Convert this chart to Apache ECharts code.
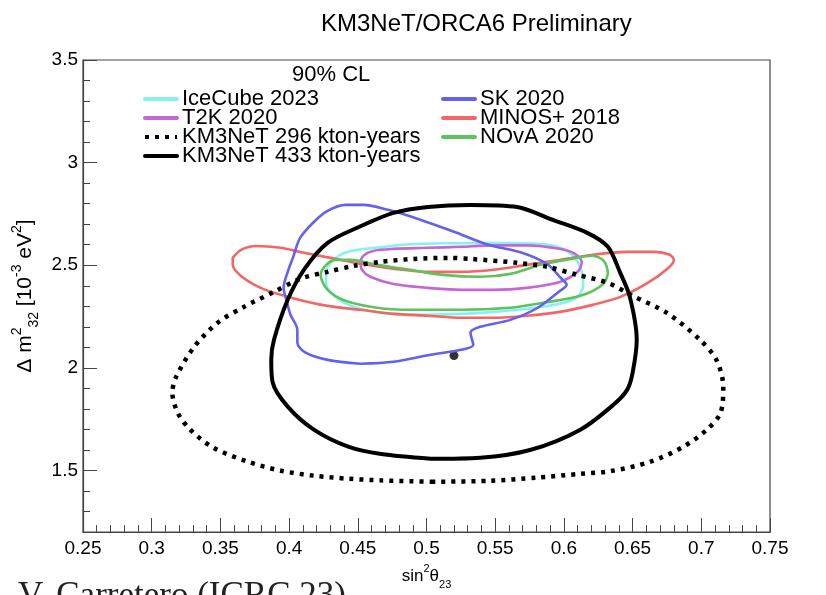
<!DOCTYPE html>
<html><head><meta charset="utf-8">
<script src="https://cdn.jsdelivr.net/npm/echarts@6/dist/echarts.min.js"></script>
<style>html,body{margin:0;padding:0;background:#fff}#c{width:826px;height:595px}</style>
</head><body><div id="c"></div>
<script>
// ---- data (sin^2 theta23, dm2_32 [1e-3 eV^2]) ----
const xTickValues = [0.25, 0.3, 0.35, 0.4, 0.45, 0.5, 0.55, 0.6, 0.65, 0.7, 0.75];
const yTickValues = [1.5, 2, 2.5, 3, 3.5];

const iceCube2023 = [[0.496,2.259],[0.467,2.268],[0.445,2.302],[0.432,2.356],[0.427,2.414],[0.427,2.468],[0.434,2.536],[0.445,2.570],[0.467,2.588],[0.488,2.602],[0.512,2.607],[0.539,2.608],[0.573,2.607],[0.594,2.592],[0.607,2.545],[0.613,2.468],[0.614,2.405],[0.610,2.346],[0.597,2.312],[0.573,2.288],[0.549,2.273],[0.525,2.263],[0.496,2.259]];
const t2k2020 = [[0.525,2.380],[0.501,2.390],[0.476,2.409],[0.459,2.444],[0.453,2.478],[0.452,2.512],[0.454,2.546],[0.461,2.570],[0.476,2.580],[0.501,2.585],[0.525,2.590],[0.549,2.597],[0.573,2.597],[0.597,2.580],[0.608,2.556],[0.613,2.517],[0.610,2.468],[0.597,2.419],[0.573,2.390],[0.549,2.380],[0.525,2.380]];
const minos2018 = [[0.359,2.536],[0.365,2.575],[0.376,2.594],[0.394,2.585],[0.408,2.565],[0.430,2.536],[0.452,2.507],[0.477,2.482],[0.501,2.468],[0.525,2.468],[0.549,2.478],[0.573,2.502],[0.597,2.526],[0.621,2.551],[0.646,2.565],[0.666,2.565],[0.677,2.551],[0.680,2.526],[0.676,2.487],[0.661,2.414],[0.641,2.346],[0.621,2.307],[0.597,2.273],[0.573,2.254],[0.549,2.244],[0.525,2.244],[0.501,2.254],[0.476,2.263],[0.452,2.283],[0.428,2.302],[0.405,2.336],[0.381,2.385],[0.365,2.448],[0.359,2.502],[0.359,2.536]];
const nova2020 = [[0.525,2.283],[0.488,2.283],[0.464,2.293],[0.441,2.327],[0.428,2.380],[0.423,2.453],[0.427,2.502],[0.434,2.526],[0.445,2.526],[0.464,2.502],[0.488,2.478],[0.512,2.453],[0.539,2.444],[0.561,2.458],[0.583,2.502],[0.605,2.531],[0.621,2.546],[0.629,2.521],[0.632,2.463],[0.628,2.405],[0.612,2.351],[0.585,2.317],[0.561,2.293],[0.525,2.283]];
const sk2020 = [[0.452,2.020],[0.428,2.039],[0.412,2.074],[0.406,2.122],[0.406,2.185],[0.401,2.259],[0.398,2.332],[0.396,2.390],[0.399,2.468],[0.403,2.541],[0.408,2.633],[0.418,2.711],[0.428,2.765],[0.441,2.794],[0.454,2.794],[0.472,2.770],[0.496,2.721],[0.520,2.663],[0.545,2.600],[0.570,2.560],[0.588,2.505],[0.597,2.443],[0.602,2.405],[0.596,2.370],[0.581,2.293],[0.561,2.234],[0.539,2.200],[0.532,2.171],[0.534,2.112],[0.525,2.088],[0.503,2.064],[0.476,2.030],[0.452,2.020]];
const km3net296 = [[0.505,1.445],[0.467,1.452],[0.443,1.460],[0.418,1.475],[0.394,1.499],[0.370,1.543],[0.345,1.611],[0.328,1.699],[0.319,1.781],[0.315,1.880],[0.318,1.960],[0.331,2.103],[0.348,2.220],[0.367,2.297],[0.389,2.370],[0.408,2.434],[0.428,2.468],[0.447,2.497],[0.467,2.517],[0.491,2.531],[0.517,2.536],[0.532,2.531],[0.566,2.512],[0.588,2.492],[0.610,2.453],[0.632,2.414],[0.650,2.351],[0.675,2.268],[0.699,2.137],[0.711,2.039],[0.716,1.908],[0.714,1.781],[0.704,1.699],[0.687,1.616],[0.663,1.543],[0.634,1.497],[0.612,1.484],[0.580,1.465],[0.545,1.450],[0.505,1.445]];
const km3net433 = [[0.503,1.557],[0.467,1.580],[0.443,1.616],[0.418,1.699],[0.399,1.811],[0.388,1.930],[0.387,2.040],[0.389,2.137],[0.399,2.332],[0.411,2.480],[0.428,2.609],[0.452,2.690],[0.476,2.755],[0.501,2.784],[0.532,2.794],[0.566,2.784],[0.592,2.721],[0.617,2.658],[0.632,2.590],[0.641,2.463],[0.648,2.346],[0.653,2.137],[0.650,1.976],[0.646,1.893],[0.636,1.820],[0.612,1.699],[0.576,1.601],[0.539,1.562],[0.503,1.557]];
const bestFit = [[0.520, 2.060]];

const legendLeft = ['IceCube 2023', 'T2K 2020', 'KM3NeT 296 kton-years', 'KM3NeT 433 kton-years'];
const legendRight = ['SK 2020', 'MINOS+ 2018', 'NOvA 2020'];

const FONT = '"Liberation Sans", Arial, Helvetica, sans-serif';
const AX = '#444';

const chart = echarts.init(document.getElementById('c'), null, {renderer: 'canvas'});

function contour(name, data, color, width, type) {
  return {
    type: 'line', name: name, data: data, symbol: 'none', showSymbol: false,
    smooth: 0.3, silent: true, animation: false, clip: true,
    lineStyle: {color: color, width: width, type: type || 'solid', cap: type ? 'butt' : 'round', join: 'round'},
    itemStyle: {color: color}
  };
}

const legendCommon = {
  orient: 'vertical', itemWidth: 32, itemHeight: 12, itemGap: -3, selectedMode: false,
  itemStyle: {color: 'rgba(0,0,0,0)', borderColor: 'rgba(0,0,0,0)', borderWidth: 0, opacity: 0},
  lineStyle: {width: 4},
  textStyle: {fontFamily: FONT, fontSize: 22, color: '#000', lineHeight: 19}
};

const richName = function (base, small) {
  return {
    b: {fontFamily: FONT, fontSize: base, color: '#000', verticalAlign: 'middle', lineHeight: base + 10},
    sup: {fontFamily: FONT, fontSize: small, color: '#000', verticalAlign: 'top', lineHeight: small + 2},
    sub: {fontFamily: FONT, fontSize: small, color: '#000', verticalAlign: 'bottom', lineHeight: small + 2}
  };
};

const option = {
  animation: false,
  backgroundColor: '#fff',
  title: {
    text: 'KM3NeT/ORCA6 Preliminary', left: 316, top: 7,
    textStyle: {fontFamily: FONT, fontSize: 24, fontWeight: 'normal', color: '#000'}
  },
  legend: [
    Object.assign({}, legendCommon, {data: legendLeft, left: 138, top: 83}),
    Object.assign({}, legendCommon, {data: legendRight, left: 436, top: 83})
  ],
  grid: {left: 83, right: 56, top: 60, bottom: 56, show: true, borderColor: AX, borderWidth: 1.2, backgroundColor: 'transparent'},
  xAxis: {
    type: 'value', min: xTickValues[0], max: xTickValues[xTickValues.length - 1], interval: 0.05,
    name: '{b|sin}{sup|2}{b|θ}{sub|23}', nameLocation: 'middle', nameGap: 30,
    nameTextStyle: {fontFamily: FONT, fontSize: 17, color: '#000', rich: richName(17, 11)},
    axisLine: {show: true, lineStyle: {color: AX, width: 1.2}},
    axisTick: {show: true, inside: true, length: 14, lineStyle: {color: AX, width: 1}},
    minorTick: {show: true, splitNumber: 5, length: 7, lineStyle: {color: AX, width: 1}},
    splitLine: {show: false}, minorSplitLine: {show: false},
    axisLabel: {fontFamily: FONT, fontSize: 19, color: '#000', margin: 7,
      formatter: function (v) { return String(+v.toFixed(2)); }}
  },
  yAxis: [
    {
      type: 'value', min: 1.2, max: yTickValues[yTickValues.length - 1], interval: 0.1, position: 'left',
      name: '{b|Δ m}{sup|2}{sub|32}{b| [10}{sup|-3}{b| eV}{sup|2}{b|]}', nameLocation: 'middle', nameGap: 40, nameRotate: 90,
      nameTextStyle: {fontFamily: FONT, fontSize: 21, color: '#000', rich: richName(21, 14)},
      axisLine: {show: true, lineStyle: {color: AX, width: 1.2}},
      axisTick: {show: true, inside: true, length: 7, lineStyle: {color: AX, width: 1}},
      splitLine: {show: false},
      axisLabel: {fontFamily: FONT, fontSize: 19, color: '#000', margin: 5,
        formatter: function (v) {
          const hit = yTickValues.some(function (t) { return Math.abs(t - v) < 1e-6; });
          return hit ? String(+v.toFixed(1)) : '';
        }}
    },
    {
      type: 'value', min: 1.2, max: yTickValues[yTickValues.length - 1], splitNumber: 4, position: 'left',
      axisLine: {show: false},
      axisTick: {show: true, inside: true, length: 14, lineStyle: {color: AX, width: 1}},
      axisLabel: {show: false}, splitLine: {show: false}
    }
  ],
  graphic: [
    {type: 'text', left: 292, top: 64, silent: true,
      style: {text: '90% CL', fontFamily: FONT, fontSize: 22, fill: '#000'}},
    {type: 'text', left: 18, top: 579, silent: true,
      style: {text: 'V. Carretero (ICRC 23)', fontFamily: '"Liberation Serif", "Times New Roman", serif', fontSize: 35, fill: '#222'}}
  ],
  series: [
    contour('IceCube 2023', iceCube2023, '#86f1f1', 2.6),
    contour('T2K 2020', t2k2020, '#c466d6', 2.6),
    contour('MINOS+ 2018', minos2018, '#f26666', 2.6),
    contour('NOvA 2020', nova2020, '#5fc25f', 2.6),
    contour('SK 2020', sk2020, '#6262ee', 2.6),
    contour('KM3NeT 296 kton-years', km3net296, '#000', 4.5, [4, 6]),
    contour('KM3NeT 433 kton-years', km3net433, '#000', 4),
    {type: 'scatter', name: 'best fit', data: bestFit, symbol: 'circle', symbolSize: 9,
      itemStyle: {color: '#000'}, silent: true, animation: false}
  ]
};
chart.setOption(option);
</script>
</body></html>
